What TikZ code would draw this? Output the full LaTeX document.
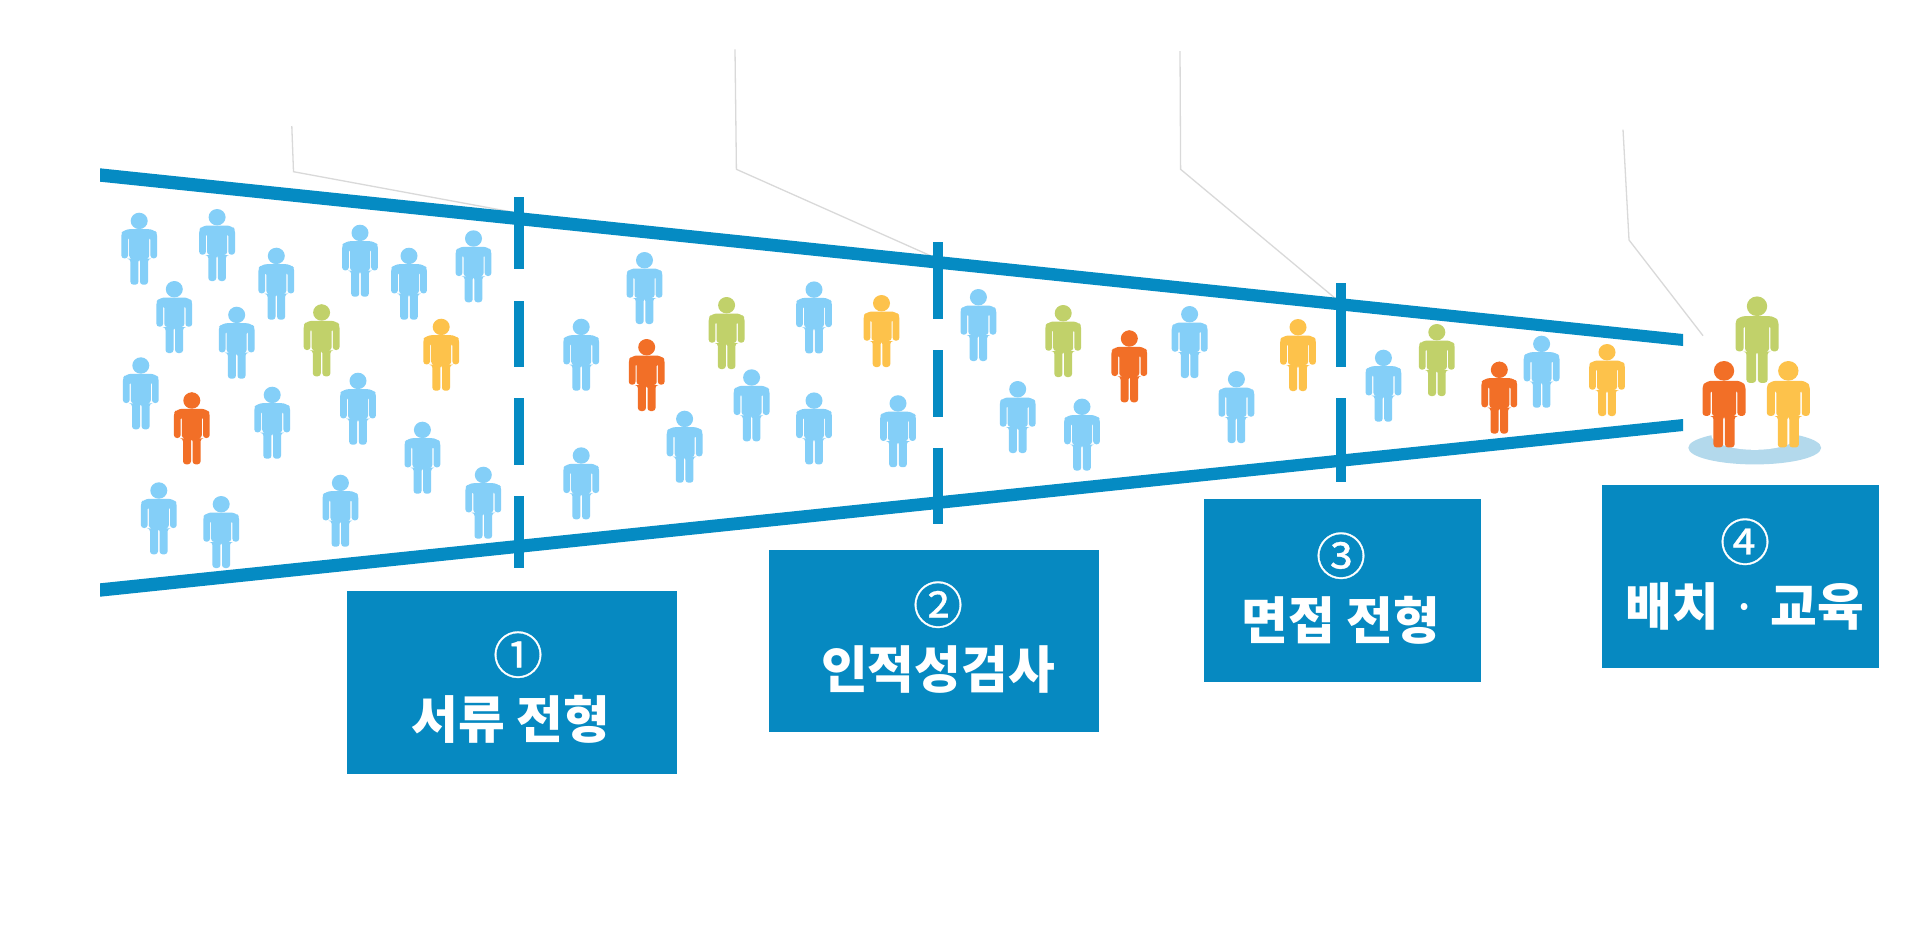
\documentclass[tikz,border=0pt]{standalone}
\usepackage{fontspec}
\newfontfamily\kr{Noto Sans CJK KR}
\newfontfamily\krnum{Noto Sans CJK KR}[FakeBold=0.6]
\definecolor{funnel}{HTML}{058BC3}
\definecolor{boxblue}{HTML}{0689C1}
\definecolor{pblue}{HTML}{84CFF8}
\definecolor{pgreen}{HTML}{C1D16A}
\definecolor{pyellow}{HTML}{FDC24B}
\definecolor{porange}{HTML}{F26F27}
\definecolor{leader}{HTML}{D9D9D9}
\definecolor{pool}{HTML}{B3D9EC}
\tikzset{
  x=0.5pt,y=-0.5pt,
  person/.pic={
    \fill[#1] (0,8.2) ellipse[x radius=8.5,y radius=8.2];
    \fill[#1,rounded corners=1.5pt] (-17.9,45.7) -- (-17.9,20.5) [rounded corners=2.5pt] -- (-14.5,16.5) -- (14.5,16.5) [rounded corners=1.5pt] -- (17.9,20.5) -- (17.9,45.7) -- (11.2,45.7) -- (11.2,24) -- (10,24) -- (10,46) -- (8.8,46) -- (8.8,72) -- (0.8,72) -- (0.8,46) -- (-0.8,46) -- (-0.8,72) -- (-8.8,72) -- (-8.8,46) -- (-10,46) -- (-10,24) -- (-11.2,24) -- (-11.2,45.7) -- cycle;
  },
  tallperson/.pic={
    \fill[#1] (0,6) ellipse[x radius=5,y radius=6];
    \pic {person=#1};
  },
  leaderline/.style={draw=leader,line width=0.65pt},
  divider/.style={draw=funnel,line width=5pt},
  bluebox/.style={fill=boxblue,inner sep=0pt},
  boxlabel/.style={text=white,inner sep=0pt,align=center,font=\kr\fontsize{25.4pt}{32.5pt}\selectfont\bfseries},
}
\newcommand{\circled}[1]{{\krnum\mdseries\fontsize{25pt}{32.5pt}\selectfont #1}}
\begin{document}
\begin{tikzpicture}
\useasboundingbox (0,0) rectangle (1920,933);
\fill[white] (0,0) rectangle (1920,933);
% leader lines
\coordinate (a1) at (291.8,126); \coordinate (a2) at (293.5,171.7); \coordinate (a3) at (512,212);
\coordinate (b1) at (735,49.3); \coordinate (b2) at (736.4,169.3); \coordinate (b3) at (930,255.5);
\coordinate (c1) at (1180,51); \coordinate (c2) at (1180.6,169.3); \coordinate (c3) at (1336,299);
\coordinate (d1) at (1623,129.6); \coordinate (d2) at (1629,240); \coordinate (d3) at (1703,335.7);
\draw[leaderline] (a1) -- (a2) -- (a3);
\draw[leaderline] (b1) -- (b2) -- (b3);
\draw[leaderline] (c1) -- (c2) -- (c3);
\draw[leaderline] (d1) -- (d2) -- (d3);
% funnel
\fill[funnel] (100,168.3) -- (1683,334) -- (1683,346) -- (100,181.7) -- cycle;
\fill[funnel] (100,583.3) -- (1683,419) -- (1683,431) -- (100,596.7) -- cycle;
% dividers
\foreach \x/\ya/\yb in {519/197/269,519/301/367,519/398/465,519/496/568,
  938/242/318.6,938/350/416.6,938/447.6/524,
  1341/283/367,1341/398/482}{
  \draw[divider] (\x,\ya) -- (\x,\yb);
}
% people
\foreach \x/\y in {139.2/212.7,217.1/209,276.3/247.7,360/224.7,409/247.7,473.5/230.3,
  174.3/281,236.7/306.7,140.8/357.3,272.2/386.7,358/372.7,422.4/421.7,
  158.8/482.3,221.2/496,340.4/474.7,483.3/466.7,581.2/318.7,581.2/447.3,
  644.5/252,814/281.4,751.6/369.3,684.6/410.7,814/392.4,898/395.2,
  978.4/289,1189.6/306,1017.7/381,1082/398.6,1236.4/371,
  1383.4/349.7,1541.6/335.7}{
  \pic at (\x,\y) {person=pblue};
}
\foreach \x/\y in {321.6/304.3,726.6/297,1063.2/305,1436.8/324}{\pic at (\x,\y) {tallperson=pgreen};}
\foreach \x/\y in {441.2/318.7,881.5/295,1298/319,1607/344}{\pic at (\x,\y) {person=pyellow};}
\foreach \x/\y in {191.8/392.3,646.7/339,1129.3/330.3,1499.3/361.6}{\pic at (\x,\y) {tallperson=porange};}
% podium
\fill[pool] (1754.7,447.8) ellipse[x radius=66.4,y radius=16.6];
\fill[white] (1754.7,434.8) ellipse[x radius=43.5,y radius=15];
\pic[scale=1.2] at (1757,296.4) {person=pgreen};
\pic[scale=1.2] at (1724,361) {person=porange};
\pic[scale=1.2] at (1788.3,361) {person=pyellow};
% boxes
\node[bluebox,minimum width=165pt,minimum height=91.5pt] (box1) at (512,682.5) {};
\node[bluebox,minimum width=165.25pt,minimum height=91pt] (box2) at (933.75,641) {};
\node[bluebox,minimum width=138.5pt,minimum height=91.5pt] (box3) at (1342.5,590.5) {};
\node[bluebox,minimum width=138.5pt,minimum height=91.5pt] (box4) at (1740,576.5) {};
\node[boxlabel] (t1) at (511,687.5) {\hspace*{7pt}\circled{①}\\서류 전형};
\node[boxlabel] (t2) at (938,637.5) {\circled{②}\\인적성검사};
\node[boxlabel] (t3) at (1341,588.5) {\circled{③}\\면접 전형};
\node[boxlabel] (t4) at (1745,574.5) {\circled{④}\\배치 {\mdseries ·} 교육};
\end{tikzpicture}
\end{document}
